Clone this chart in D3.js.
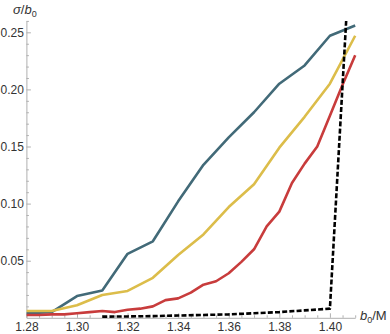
<!DOCTYPE html>
<html>
<head>
<meta charset="utf-8">
<script src="https://cdn.jsdelivr.net/npm/d3@7"></script>
<style>
  html, body { margin: 0; padding: 0; background: #fff; }
  svg { display: block; font-family: "Liberation Sans", Arial, sans-serif; }
</style>
</head>
<body>
<svg id="chart" width="390" height="334"></svg>
<script>
// ---- data ----
const xCoarse = [1.28, 1.29, 1.30, 1.31, 1.32, 1.33, 1.34, 1.35, 1.36, 1.37, 1.38, 1.39, 1.40, 1.41];
const blueValues = [0.004, 0.005, 0.019, 0.024, 0.056, 0.067, 0.102, 0.134, 0.158, 0.180, 0.205, 0.221, 0.247, 0.256];
const yellowValues = [0.006, 0.006, 0.011, 0.020, 0.0235, 0.035, 0.055, 0.073, 0.097, 0.117, 0.149, 0.176, 0.205, 0.247];

const xFine = [1.28, 1.285, 1.29, 1.295, 1.30, 1.305, 1.31, 1.315, 1.32, 1.325, 1.33, 1.335, 1.34, 1.345,
               1.35, 1.355, 1.36, 1.365, 1.37, 1.375, 1.38, 1.385, 1.39, 1.395, 1.40, 1.405, 1.41];
const redValues = [0.0025, 0.0025, 0.003, 0.003, 0.004, 0.005, 0.006, 0.005, 0.007, 0.008, 0.010, 0.0155, 0.017, 0.022,
                   0.029, 0.032, 0.039, 0.049, 0.060, 0.080, 0.093, 0.118, 0.135, 0.150, 0.177, 0.204, 0.230];

const xDashed = [1.31, 1.32, 1.33, 1.34, 1.35, 1.36, 1.37, 1.38, 1.39, 1.40, 1.41];
const dashedValues = [0.001, 0.0012, 0.0015, 0.002, 0.0025, 0.003, 0.004, 0.005, 0.0065, 0.008, 0.40];

const xTickLabels = [1.28, 1.30, 1.32, 1.34, 1.36, 1.38, 1.40];
const yTickLabels = [0.05, 0.10, 0.15, 0.20, 0.25];

// ---- layout ----
const svg = d3.select("#chart");
const x = d3.scaleLinear().domain([1.28, 1.41]).range([26.4, 355.2]);
const y = d3.scaleLinear().domain([0, 0.26]).range([317.8, 20.9]);

const axisColor = "#b0b0b0";
const labelColor = "#333";

svg.append("defs").append("clipPath").attr("id", "clip")
  .append("rect").attr("x", x(1.28)).attr("y", y(0.26))
  .attr("width", x(1.41) - x(1.28) + 3).attr("height", y(0) - y(0.26) + 2);

// x axis
const xMinor = d3.range(1.28, 1.4101, 0.005).map(v => +v.toFixed(3));
const xAxis = d3.axisBottom(x).tickValues(xMinor).tickSizeInner(0).tickSizeOuter(0).tickFormat("");
const gx = svg.append("g").attr("transform", `translate(0,${y(0)})`).call(xAxis);
gx.select(".domain").attr("stroke", axisColor).attr("stroke-width", 1);
gx.selectAll(".tick line").remove();
gx.selectAll(".tick").append("line")
  .attr("y1", 0)
  .attr("y2", d => xTickLabels.some(t => Math.abs(t - d) < 1e-6) ? -4.5 : -2.5)
  .attr("stroke", axisColor);
gx.selectAll(".tick").filter(d => xTickLabels.some(t => Math.abs(t - d) < 1e-6))
  .append("text")
  .attr("y", 13.5).attr("text-anchor", "middle")
  .attr("fill", labelColor).attr("font-size", 12)
  .text(d => d3.format(".2f")(d));

// y axis
const yMinor = d3.range(0.01, 0.2601, 0.01).map(v => +v.toFixed(3));
const yAxis = d3.axisLeft(y).tickValues(yMinor).tickSizeInner(0).tickSizeOuter(0).tickFormat("");
const gy = svg.append("g").attr("transform", `translate(${x(1.28)},0)`).call(yAxis);
gy.select(".domain").attr("stroke", axisColor).attr("stroke-width", 1);
gy.selectAll(".tick line").remove();
gy.selectAll(".tick").append("line")
  .attr("x1", 0)
  .attr("x2", d => yTickLabels.some(t => Math.abs(t - d) < 1e-6) ? 4.5 : 2.5)
  .attr("stroke", axisColor);
gy.selectAll(".tick").filter(d => yTickLabels.some(t => Math.abs(t - d) < 1e-6))
  .append("text")
  .attr("x", -2.5).attr("dy", "0.35em").attr("text-anchor", "end")
  .attr("fill", labelColor).attr("font-size", 12)
  .text(d => d3.format(".2f")(d));

// lines
const plot = svg.append("g").attr("clip-path", "url(#clip)");
const line = d3.line().x(d => x(d[0])).y(d => y(d[1]));

const series = [
  { xs: xCoarse, ys: blueValues, color: "#426a78", dash: null },
  { xs: xCoarse, ys: yellowValues, color: "#dcbd4a", dash: null },
  { xs: xFine, ys: redValues, color: "#c83c3c", dash: null },
  { xs: xDashed, ys: dashedValues, color: "#000000", dash: "5,2.2" }
];
series.forEach(s => {
  plot.append("path")
    .datum(s.xs.map((v, i) => [v, s.ys[i]]))
    .attr("d", line)
    .attr("fill", "none")
    .attr("stroke", s.color)
    .attr("stroke-width", 2.6)
    .attr("stroke-linejoin", "round")
    .attr("stroke-dasharray", s.dash);
});

// axis labels
const yl = svg.append("text").attr("x", 13).attr("y", 14).attr("fill", labelColor).attr("font-size", 13);
yl.append("tspan").attr("font-style", "italic").text("σ");
yl.append("tspan").text("/");
yl.append("tspan").attr("font-style", "italic").text("b");
yl.append("tspan").attr("font-size", 9).attr("dy", 3).text("0");

const xl = svg.append("text").attr("x", 360).attr("y", 320).attr("fill", labelColor).attr("font-size", 13);
xl.append("tspan").attr("font-style", "italic").text("b");
xl.append("tspan").attr("font-size", 9).attr("dy", 3).text("0");
xl.append("tspan").attr("dy", -3).text("/M");
</script>
</body>
</html>
